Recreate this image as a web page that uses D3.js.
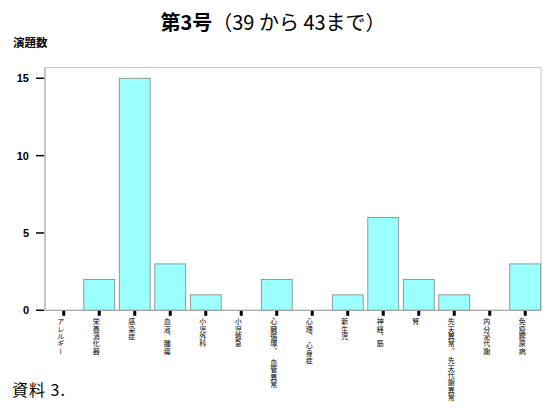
<!doctype html>
<meta charset="utf-8">
<script src="https://d3js.org/d3.v7.min.js"></script>
<style>
  body {margin:0; background:#fff;}
  text {font-family: "Noto Sans CJK JP", "Noto Sans", sans-serif;}
  .num {font-family: "Liberation Sans", Arial, sans-serif; font-weight:bold; font-size:11px;}
  .cat {font-size:7px; writing-mode: vertical-rl; letter-spacing:0.4px;}
</style>
<body>
<svg width="550" height="408"></svg>
<script>
// categories and counts
var categories = ["アレルギー", "栄養消化器", "感染症", "血液、腫瘍", "小児外科", "小児救急",
  "心臓循環、　血管異常", "心理、 心身症", "新生児", "神経、筋", "腎",
  "先天異常、 先天代謝異常", "内分泌代謝", "免疫膠原病"];
var counts = [0, 2, 15, 3, 1, 0, 2, 0, 1, 6, 2, 1, 0, 3];
var yTicks = [0, 5, 10, 15];

var svg = d3.select("svg");

var x = d3.scaleBand().domain(categories).range([46, 543]).paddingInner(0.13).paddingOuter(0.065);
var y = d3.scaleLinear().domain([0, 15]).range([310.3, 78.3]);

// plot frame
svg.append("rect")
  .attr("x", 45).attr("y", y(15.7))
  .attr("width", 496).attr("height", y(0) - y(15.7))
  .attr("fill", "none").attr("stroke", "#c4c4c4").attr("stroke-width", 1);

// bars
svg.append("g").selectAll("rect")
  .data(counts)
  .enter().append("rect")
    .attr("x", function(d, i) {return x(categories[i]);})
    .attr("y", function(d) {return y(d);})
    .attr("width", x.bandwidth())
    .attr("height", function(d) {return y(0) - y(d);})
    .attr("fill", "#99ffff")
    .attr("stroke", "#808080")
    .attr("stroke-width", 0.8)
    .style("display", function(d) {return d > 0 ? null : "none";});

// left axis line + bottom line
svg.append("line")
  .attr("x1", 45).attr("x2", 45).attr("y1", y(15.7)).attr("y2", y(0))
  .attr("stroke", "#c4c4c4").attr("stroke-width", 2);
svg.append("line")
  .attr("x1", 45).attr("x2", 541).attr("y1", y(0)).attr("y2", y(0))
  .attr("stroke", "#a0a0a0").attr("stroke-width", 1);

var yAxis = svg.append("g").selectAll("g")
  .data(yTicks).enter().append("g")
  .attr("transform", function(d) {return "translate(0," + y(d) + ")";});
yAxis.append("line").attr("x1", 36).attr("x2", 44).attr("stroke", "#000").attr("stroke-width", 1.5);
yAxis.append("text").attr("class", "num")
  .attr("x", 29).attr("y", 4).attr("text-anchor", "end")
  .text(function(d) {return d;});

// bottom ticks (small black blocks)
svg.append("g").selectAll("rect")
  .data(categories).enter().append("rect")
  .attr("x", function(d) {return x(d) + x.bandwidth() / 2 - 1.5;})
  .attr("y", y(0) + 0.5)
  .attr("width", 3).attr("height", 5)
  .attr("fill", "#000");

// category labels, vertical
svg.append("g").selectAll("text")
  .data(categories).enter().append("text")
  .attr("class", "cat")
  .attr("x", function(d) {return x(d) + x.bandwidth() / 2 - 3;})
  .attr("y", 318)
  .text(function(d) {return d;});

// titles
var title = svg.append("text")
  .attr("x", 273).attr("y", 30).attr("text-anchor", "middle")
  .attr("font-size", 20);
title.append("tspan").attr("font-weight", "bold").text("第3号");
title.append("tspan").attr("font-weight", "normal").text("（39 から 43まで）");

svg.append("text")
  .attr("x", 13).attr("y", 47)
  .attr("font-size", 11.5).attr("font-weight", "bold")
  .text("演題数");
svg.append("text")
  .attr("x", 12).attr("y", 396)
  .attr("font-size", 16).attr("letter-spacing", 1)
  .text("資料 3.");
</script>
</body>
